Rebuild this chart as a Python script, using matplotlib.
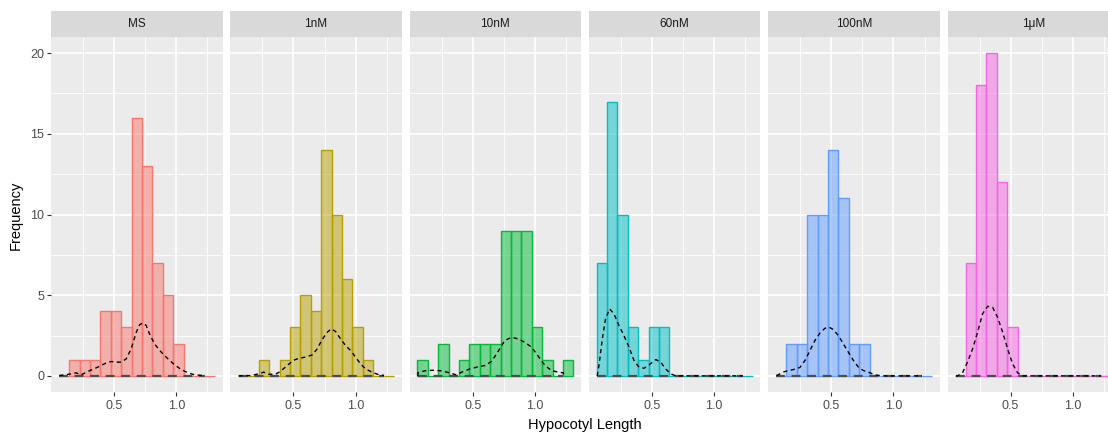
import numpy as np
import matplotlib
matplotlib.use("Agg")
import matplotlib.pyplot as plt

plt.rcParams['font.family'] = ['Liberation Sans', 'DejaVu Sans']

# facets and colours (ggplot hue palette)
groups = ['MS', '1nM', '10nM', '60nM', '100nM', '1μM']
colors = ['#F8766D', '#B79F00', '#00BA38', '#00BFC4', '#619CFF', '#F564E3']

# histogram: 15 bins shared by all facets
bin_start = 0.055
bin_width = 0.0836
counts = {
    'MS':    [0, 1, 1, 1, 4, 4, 3, 16, 13, 7, 5, 2, 0, 0, 0],
    '1nM':   [0, 0, 1, 0, 1, 3, 5, 4, 14, 10, 6, 3, 1, 0, 0],
    '10nM':  [1, 0, 2, 0, 1, 2, 2, 2, 9, 9, 9, 3, 1, 0, 1],
    '60nM':  [7, 17, 10, 3, 1, 3, 3, 0, 0, 0, 0, 0, 0, 0, 0],
    '100nM': [0, 2, 2, 10, 10, 14, 11, 2, 2, 0, 0, 0, 0, 0, 0],
    '1μM':   [0, 7, 18, 20, 12, 3, 0, 0, 0, 0, 0, 0, 0, 0, 0],
}

# density curves
dens_x = {
    'MS':    [0.059, 0.153, 0.194, 0.234, 0.288, 0.368, 0.436, 0.476, 0.516, 0.556, 0.597, 0.637,
              0.678, 0.704, 0.731, 0.758, 0.785, 0.825, 0.879, 0.933, 0.987, 1.040, 1.094, 1.148, 1.229],
    '1nM':   [0.059, 0.153, 0.220, 0.261, 0.301, 0.355, 0.395, 0.449, 0.503, 0.543, 0.597, 0.651,
              0.691, 0.731, 0.772, 0.804, 0.839, 0.879, 0.919, 0.960, 1.000, 1.040, 1.081, 1.121, 1.175, 1.229],
    '10nM':  [0.059, 0.059, 0.113, 0.180, 0.247, 0.315, 0.368, 0.422, 0.476, 0.543, 0.597, 0.651, 0.704,
              0.758, 0.812, 0.866, 0.919, 0.973, 1.027, 1.081, 1.134, 1.188, 1.229, 1.229],
    '60nM':  [0.059, 0.073, 0.100, 0.126, 0.159, 0.194, 0.234, 0.274, 0.315, 0.355, 0.395, 0.436,
              0.476, 0.530, 0.570, 0.610, 0.651, 0.691, 1.229],
    '100nM': [0.059, 0.126, 0.194, 0.247, 0.288, 0.328, 0.368, 0.409, 0.449, 0.484, 0.516, 0.556,
              0.597, 0.637, 0.678, 0.718, 0.758, 0.798, 0.852, 0.906, 1.229],
    '1μM':   [0.059, 0.073, 0.113, 0.153, 0.194, 0.234, 0.274, 0.315, 0.355, 0.395, 0.436, 0.476,
              0.516, 0.556, 0.597, 1.229],
}
dens_y = {
    'MS':    [0.02, 0.12, 0.19, 0.06, 0.27, 0.54, 0.80, 0.89, 0.85, 0.85, 1.05, 1.67,
              2.70, 3.16, 3.28, 3.12, 2.60, 1.98, 1.47, 1.05, 0.68, 0.39, 0.19, 0.06, 0.02],
    '1nM':   [0.0, 0.02, 0.12, 0.23, 0.10, 0.10, 0.27, 0.64, 0.97, 1.09, 1.16, 1.30,
              1.67, 2.25, 2.70, 2.91, 2.75, 2.29, 1.88, 1.57, 1.16, 0.74, 0.43, 0.27, 0.10, 0.02],
    '10nM':  [0.0, 0.19, 0.31, 0.35, 0.31, 0.19, 0.06, 0.27, 0.43, 0.56, 0.64, 0.89, 1.51,
              2.19, 2.39, 2.29, 2.08, 1.78, 1.22, 0.64, 0.33, 0.23, 0.19, 0.0],
    '60nM':  [0.0, 0.64, 2.29, 3.53, 4.15, 3.84, 3.12, 2.50, 1.78, 0.95, 0.54, 0.47,
              0.68, 1.01, 0.85, 0.43, 0.12, 0.0, 0.0],
    '100nM': [0.02, 0.27, 0.39, 0.52, 0.95, 1.57, 2.19, 2.66, 2.95, 3.01, 2.87, 2.50,
              1.98, 1.47, 0.95, 0.54, 0.33, 0.23, 0.06, 0.0, 0.0],
    '1μM':   [0.0, 0.0, 0.19, 0.85, 1.67, 2.70, 3.84, 4.31, 4.25, 3.63, 2.70, 1.67,
              0.74, 0.19, 0.0, 0.0],
}

x_ticks = [0.5, 1.0]
x_minor = [0.25, 0.75, 1.25]
y_ticks = [0, 5, 10, 15, 20]
y_minor = [2.5, 7.5, 12.5, 17.5]

W, H = 1108, 432
fig = plt.figure(figsize=(W / 100, H / 100), dpi=100)

edges = bin_start + bin_width * np.arange(16)
left0, step, pw = 51, 179.3, 171.5
top, bottom = 37, 392
strip_top = 11

for i, g in enumerate(groups):
    x0 = left0 + i * step
    ax = fig.add_axes([x0 / W, 1 - bottom / H, pw / W, (bottom - top) / H])
    ax.set_facecolor('#EBEBEB')
    ax.set_xlim(-0.0077, 1.3717)
    ax.set_ylim(-1, 21)
    for v in x_minor:
        ax.axvline(v, color='white', lw=0.6, zorder=0)
    for v in y_minor:
        ax.axhline(v, color='white', lw=0.6, zorder=0)
    for v in x_ticks:
        ax.axvline(v, color='white', lw=1.2, zorder=0)
    for v in y_ticks:
        ax.axhline(v, color='white', lw=1.2, zorder=0)

    # fill and outline drawn separately so the outline stays opaque
    ax.bar(edges[:-1], counts[g], width=bin_width, align='edge',
           facecolor=colors[i], alpha=0.5, edgecolor='none', zorder=2)
    ax.bar(edges[:-1], counts[g], width=bin_width, align='edge',
           facecolor='none', edgecolor=colors[i], lw=1.0, zorder=3)

    xs = dens_x[g]
    ax.plot([xs[0], xs[-1]], [0, 0], color='#4D4D4D', lw=1.6, ls=(0, (4, 3)), zorder=4)
    ax.plot(xs, dens_y[g], color='black', lw=1.0, ls=(0, (3, 2.5)), zorder=5)

    for s in ax.spines.values():
        s.set_visible(False)
    ax.set_xticks(x_ticks)
    ax.set_xticklabels(['0.5', '1.0'])
    ax.tick_params(axis='x', colors='#333333', labelcolor='#4D4D4D', labelsize=9,
                   length=3, width=0.8, pad=3)
    if i == 0:
        ax.set_yticks(y_ticks)
        ax.tick_params(axis='y', colors='#333333', labelcolor='#4D4D4D', labelsize=9,
                       length=3, width=0.8, pad=2)
    else:
        ax.set_yticks([])

    sax = fig.add_axes([x0 / W, 1 - top / H, pw / W, (top - strip_top) / H])
    sax.set_facecolor('#D9D9D9')
    sax.set_xticks([])
    sax.set_yticks([])
    for s in sax.spines.values():
        s.set_visible(False)
    sax.text(0.5, 0.5, g, ha='center', va='center', fontsize=8.5, color='#1A1A1A',
             transform=sax.transAxes)

fig.text(16 / W, 1 - 215 / H, 'Frequency', rotation=90, ha='center', va='center',
         fontsize=10.5, color='black')
fig.text(585 / W, 1 - 425 / H, 'Hypocotyl Length', ha='center', va='center',
         fontsize=10.5, color='black')

fig.savefig('out.png', dpi=100)
